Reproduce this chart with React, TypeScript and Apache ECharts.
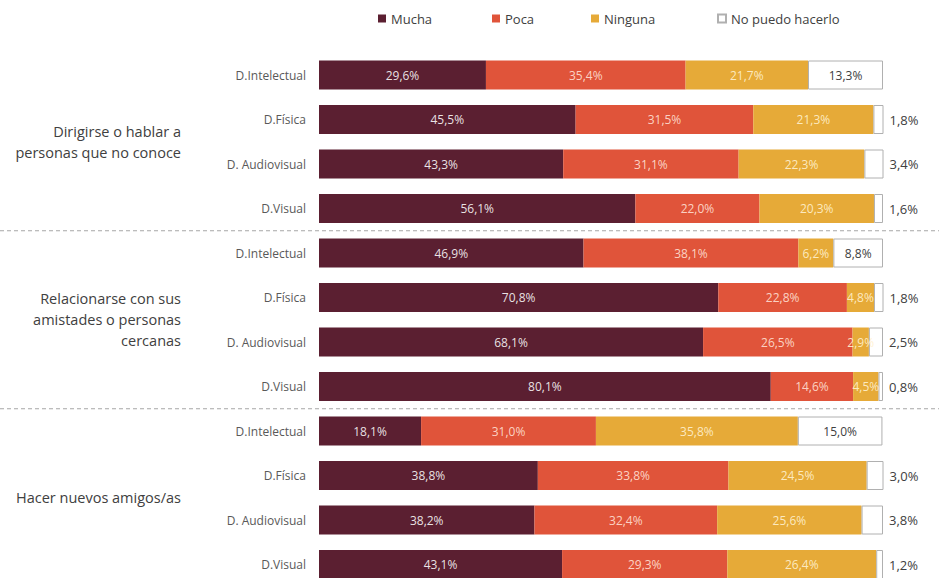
import React, { useEffect, useRef } from "react";
import * as echarts from "echarts";

const groups = [
  "Dirigirse o hablar a\npersonas que no conoce",
  "Relacionarse con sus\namistades o personas\ncercanas",
  "Hacer nuevos amigos/as",
];
const types = ["D.Intelectual", "D.Física", "D. Audiovisual", "D.Visual"];
const seriesNames = ["Mucha", "Poca", "Ninguna", "No puedo hacerlo"];

const mucha = [29.6, 45.5, 43.3, 56.1, 46.9, 70.8, 68.1, 80.1, 18.1, 38.8, 38.2, 43.1];
const poca = [35.4, 31.5, 31.1, 22.0, 38.1, 22.8, 26.5, 14.6, 31.0, 33.8, 32.4, 29.3];
const ninguna = [21.7, 21.3, 22.3, 20.3, 6.2, 4.8, 2.9, 4.5, 35.8, 24.5, 25.6, 26.4];
const noPuedo = [13.3, 1.8, 3.4, 1.6, 8.8, 1.8, 2.5, 0.8, 15.0, 3.0, 3.8, 1.2];

const categories: string[] = [];
groups.forEach((g, gi) => types.forEach((t) => categories.push(gi + "|" + t)));

const W = 939;
const H = 578;
const GRID_LEFT = 319;
const GRID_RIGHT = 56;
const GRID_TOP = 52.75;
const ROW = 44.5;
const FONT = "'Open Sans', 'Noto Sans', sans-serif";
const LEGEND_LEFT = [373, 487, 586, 712];

const fmt = (v: number) => v.toFixed(1).replace(".", ",") + "%";

export default function App() {
  const ref = useRef<HTMLDivElement>(null);
  useEffect(() => {
    if (!ref.current) return;
    const chart = echarts.init(ref.current, undefined, { renderer: "svg" });
    const colors = ["#5b1f31", "#e0543a", "#e6aa38", "#ffffff"];
    const labelColors = ["rgba(255,255,255,0.88)", "rgba(255,225,215,0.9)", "rgba(255,240,205,0.92)", "#404040"];
    const values = [mucha, poca, ninguna, noPuedo];
    const groupH = ROW * types.length;
    const sepLines = [1, 2].map((k) => ({
      type: "line",
      shape: { x1: 0, y1: GRID_TOP + k * groupH, x2: W, y2: GRID_TOP + k * groupH },
      style: { stroke: "#a6a6a6", lineWidth: 1, lineDash: [4, 3] },
      silent: true,
    }));
    chart.setOption({
      animation: false,
      textStyle: { fontFamily: FONT },
      legend: seriesNames.map((name, i) => ({
        top: 7,
        left: LEGEND_LEFT[i],
        itemWidth: 8,
        itemHeight: 8,
        icon: "rect",
        textStyle: { fontSize: 13, color: "#404040", fontFamily: FONT },
        data: [name],
      })),
      grid: {
        left: GRID_LEFT,
        right: GRID_RIGHT,
        top: GRID_TOP,
        height: ROW * categories.length,
        containLabel: false,
        outerBoundsMode: "none",
      },
      xAxis: { type: "value", min: 0, max: 100, show: false },
      yAxis: [
        {
          type: "category",
          data: categories,
          inverse: true,
          axisLine: { show: false },
          axisTick: { show: false },
          axisLabel: {
            fontSize: 12,
            color: "#595959",
            margin: 13,
            fontFamily: FONT,
            formatter: (v: string) => v.split("|")[1],
          },
        },
        {
          type: "category",
          data: groups,
          inverse: true,
          position: "left",
          offset: GRID_LEFT - 181,
          axisLine: { show: false },
          axisTick: { show: false },
          axisLabel: {
            fontSize: 14.5,
            lineHeight: 21,
            color: "#404040",
            margin: 0,
            align: "right",
            fontFamily: FONT,
          },
        },
      ],
      series: seriesNames.map((name, si) => ({
        name,
        type: "bar",
        stack: "total",
        yAxisIndex: 0,
        barWidth: 29,
        itemStyle:
          si === 3
            ? { color: colors[si], borderColor: "#b0b0b0", borderWidth: 1 }
            : { color: colors[si] },
        data: values[si].map((v) => {
          const outside = si === 3 && v < 5;
          return {
            value: v,
            label: {
              show: true,
              position: outside ? "right" : "inside",
              distance: 6,
              color: labelColors[si],
              fontSize: outside ? 13 : 12,
              fontFamily: FONT,
              formatter: () => fmt(v),
            },
          };
        }),
      })),
      graphic: sepLines,
    });
    return () => chart.dispose();
  }, []);
  return <div ref={ref} style={{ width: W, height: H, position: "absolute", left: 0, top: 0 }} />;
}
